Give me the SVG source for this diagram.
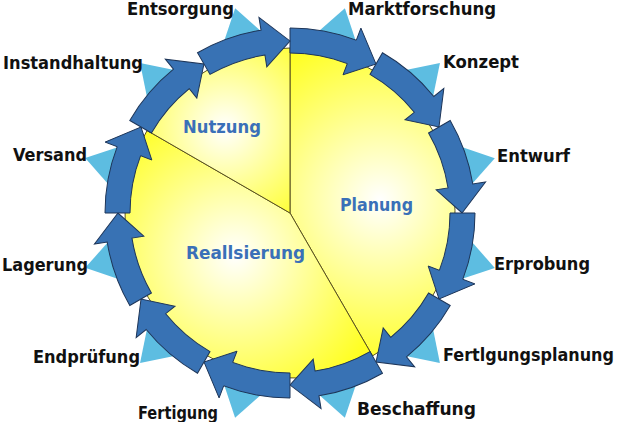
<svg xmlns="http://www.w3.org/2000/svg" xmlns:xlink="http://www.w3.org/1999/xlink" width="618" height="422" viewBox="0 0 618 422">
<style>
.lbl{font-family:"DejaVu Sans","Liberation Sans",sans-serif;font-weight:bold;font-size:17px;fill:#111}
.sec{font-family:"DejaVu Sans","Liberation Sans",sans-serif;font-weight:bold;font-size:17px;fill:#3a70b8}
.arrow{fill:#3872b4;stroke:#1d3558;stroke-width:1}
.tri{fill:#5dbde1}
.sector{stroke:#5a5220;stroke-width:1}
</style>
<defs>
<radialGradient id="gN" gradientUnits="userSpaceOnUse" cx="225" cy="128" r="120"><stop offset="0" stop-color="#ffffff"/><stop offset="1" stop-color="#ffff20"/></radialGradient>
<radialGradient id="gP" gradientUnits="userSpaceOnUse" cx="380" cy="200" r="170"><stop offset="0" stop-color="#ffffff"/><stop offset="1" stop-color="#ffff20"/></radialGradient>
<radialGradient id="gR" gradientUnits="userSpaceOnUse" cx="235" cy="255" r="160"><stop offset="0" stop-color="#ffffff"/><stop offset="1" stop-color="#ffff20"/></radialGradient>
<polygon id="tri" class="tri" points="54.9,-204.8 14.8,-169.4 71.8,-154.1"/>
<path id="arr" class="arrow" d="M0,-185 A185,185 0 0 1 66.3,-172.8 L70.9,-184.9 L86,-149 L53,-138.2 L57.3,-149.4 A160,160 0 0 0 0,-160 Z"/>
</defs>
<g id="triangles" transform="translate(290,213)">
<use xlink:href="#tri"/><use xlink:href="#tri" transform="rotate(30)"/><use xlink:href="#tri" transform="rotate(60)"/><use xlink:href="#tri" transform="rotate(90)"/><use xlink:href="#tri" transform="rotate(120)"/><use xlink:href="#tri" transform="rotate(150)"/><use xlink:href="#tri" transform="rotate(180)"/><use xlink:href="#tri" transform="rotate(210)"/><use xlink:href="#tri" transform="rotate(240)"/><use xlink:href="#tri" transform="rotate(270)"/><use xlink:href="#tri" transform="rotate(300)"/><use xlink:href="#tri" transform="rotate(330)"/>
</g>
<g id="planung"><path class="sector" fill="url(#gP)" d="M290,213 L290,48 A165,165 0 0 1 372.5,355.9 Z"/><text class="sec" x="340" y="211" textLength="73" lengthAdjust="spacingAndGlyphs">Planung</text></g>
<g id="realisierung"><path class="sector" fill="url(#gR)" d="M290,213 L372.5,355.9 A165,165 0 0 1 147.1,130.5 Z"/><text class="sec" x="186" y="259" textLength="119" lengthAdjust="spacingAndGlyphs">Reallsierung</text></g>
<g id="nutzung"><path class="sector" fill="url(#gN)" d="M290,213 L147.1,130.5 A165,165 0 0 1 290,48 Z"/><text class="sec" x="183" y="133" textLength="78" lengthAdjust="spacingAndGlyphs">Nutzung</text></g>
<g id="connectors" transform="translate(290,213)">
<use xlink:href="#arr"/><use xlink:href="#arr" transform="rotate(30)"/><use xlink:href="#arr" transform="rotate(60)"/><use xlink:href="#arr" transform="rotate(90)"/><use xlink:href="#arr" transform="rotate(120)"/><use xlink:href="#arr" transform="rotate(150)"/><use xlink:href="#arr" transform="rotate(180)"/><use xlink:href="#arr" transform="rotate(210)"/><use xlink:href="#arr" transform="rotate(240)"/><use xlink:href="#arr" transform="rotate(270)"/><use xlink:href="#arr" transform="rotate(300)"/><use xlink:href="#arr" transform="rotate(330)"/>
</g>
<g id="labels">
<text class="lbl" x="348" y="15" textLength="148" lengthAdjust="spacingAndGlyphs">Marktforschung</text>
<text class="lbl" x="443" y="68" textLength="76" lengthAdjust="spacingAndGlyphs">Konzept</text>
<text class="lbl" x="497" y="162" textLength="73" lengthAdjust="spacingAndGlyphs">Entwurf</text>
<text class="lbl" x="494" y="270" textLength="96" lengthAdjust="spacingAndGlyphs">Erprobung</text>
<text class="lbl" x="443" y="361" textLength="171" lengthAdjust="spacingAndGlyphs">Fertlgungsplanung</text>
<text class="lbl" x="357" y="415" textLength="119" lengthAdjust="spacingAndGlyphs">Beschaffung</text>
<text class="lbl" x="138" y="419" textLength="80" lengthAdjust="spacingAndGlyphs">Fertigung</text>
<text class="lbl" x="33" y="363" textLength="107" lengthAdjust="spacingAndGlyphs">Endprüfung</text>
<text class="lbl" x="2" y="271" textLength="86" lengthAdjust="spacingAndGlyphs">Lagerung</text>
<text class="lbl" x="13" y="161" textLength="74" lengthAdjust="spacingAndGlyphs">Versand</text>
<text class="lbl" x="3" y="69" textLength="140" lengthAdjust="spacingAndGlyphs">Instandhaltung</text>
<text class="lbl" x="127" y="15" textLength="107" lengthAdjust="spacingAndGlyphs">Entsorgung</text>
</g>
</svg>
